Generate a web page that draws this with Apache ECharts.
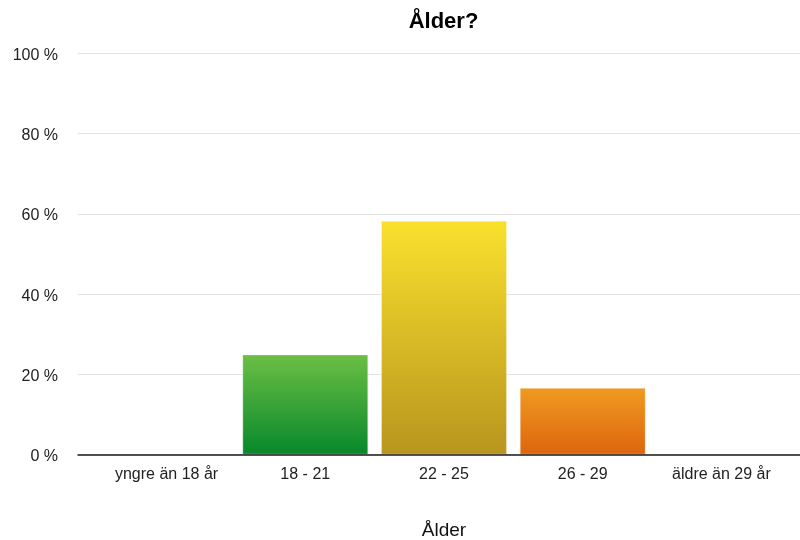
<!DOCTYPE html>
<html>
<head>
<meta charset="utf-8">
<script src="https://cdn.jsdelivr.net/npm/echarts@6/dist/echarts.min.js"></script>
<style>
html,body{margin:0;padding:0;background:#fff;}
#chart{width:800px;height:540px;}
</style>
</head>
<body>
<div id="chart"></div>
<script>
var titleText = 'Ålder?';
var axisName = 'Ålder';
var categories = ['yngre än 18 år', '18 - 21', '22 - 25', '26 - 29', 'äldre än 29 år'];
var values = [0, 25, 58.33, 16.67, 0];
var yTicks = [0, 20, 40, 60, 80, 100];
var topColors = ['#6cbf44', '#6cbf44', '#f9e12d', '#f09a20', '#f09a20'];
var bottomColors = ['#07882b', '#07882b', '#b8951e', '#dd650e', '#dd650e'];

var FONT = '"Liberation Sans", Helvetica, Arial, sans-serif';
var chart = echarts.init(document.getElementById('chart'), null, {renderer: 'canvas'});

var barData = values.map(function (v, i) {
  return {
    value: v,
    itemStyle: {
      color: new echarts.graphic.LinearGradient(0, 0, 0, 1, [
        {offset: 0, color: topColors[i]},
        {offset: 1, color: bottomColors[i]}
      ]),
      borderColor: 'rgba(255,255,255,0.3)',
      borderWidth: v > 0 ? 1 : 0,
      opacity: v > 0 ? 1 : 0
    }
  };
});

chart.setOption({
  animation: false,
  backgroundColor: '#fff',
  title: {
    text: titleText,
    left: 443.5,
    textAlign: 'center',
    top: 11,
    padding: 0,
    textStyle: {fontFamily: FONT, fontSize: 22, fontWeight: 'bold', color: '#000'}
  },
  grid: [
    {left: 78, right: 0, top: 53.5, bottom: 85.3, outerBoundsMode: 'none', containLabel: false},
    {left: 97.2, right: 9.2, top: 53.5, bottom: 85.3, outerBoundsMode: 'none', containLabel: false}
  ],
  xAxis: [
    {
      gridIndex: 0, type: 'value', min: 0, max: 1,
      axisLine: {show: true, lineStyle: {color: '#1a1a1a', width: 1.5}},
      axisTick: {show: false}, axisLabel: {show: false}, splitLine: {show: false},
      z: 5
    },
    {
      gridIndex: 1, type: 'category', data: categories,
      axisLine: {show: false}, axisTick: {show: false},
      axisLabel: {fontFamily: FONT, fontSize: 16, color: '#222', margin: 12, interval: 0},
      name: axisName, nameLocation: 'middle', nameGap: 67,
      nameTextStyle: {fontFamily: FONT, fontSize: 19, color: '#111'}
    }
  ],
  yAxis: [
    {
      gridIndex: 0, type: 'value', min: yTicks[0], max: yTicks[yTicks.length - 1], interval: 20,
      axisLine: {show: false}, axisTick: {show: false},
      axisLabel: {fontFamily: FONT, fontSize: 16, color: '#222', margin: 20, formatter: '{value} %',
        verticalAlign: 'top', lineHeight: 4},
      splitLine: {show: true, lineStyle: {color: '#e3e3e3', width: 1}}
    },
    {
      gridIndex: 1, type: 'value', min: yTicks[0], max: yTicks[yTicks.length - 1],
      show: false, splitLine: {show: false}
    }
  ],
  series: [{
    type: 'bar',
    xAxisIndex: 1,
    yAxisIndex: 1,
    data: barData,
    barCategoryGap: '9.2%',
    z: 1
  }]
});
</script>
</body>
</html>
